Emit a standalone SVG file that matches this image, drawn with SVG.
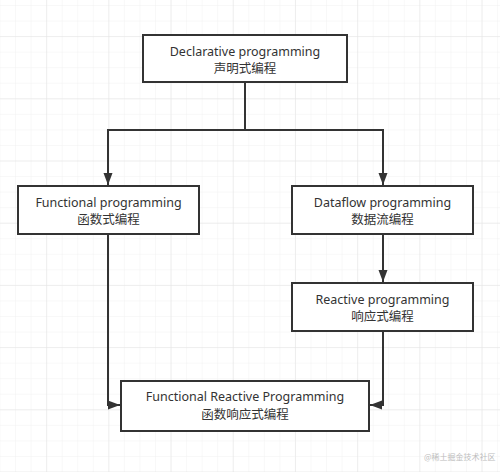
<svg xmlns="http://www.w3.org/2000/svg" width="500" height="472" viewBox="0 0 500 472">
  <defs>
    <pattern id="minor" patternUnits="userSpaceOnUse" x="-0.5" y="5" width="15.55" height="15.55">
      <path d="M0,0 H15.55 M0,0 V15.55" fill="none" stroke="#f1f1f1" stroke-width="1"/>
    </pattern>
    <pattern id="major" patternUnits="userSpaceOnUse" x="46.15" y="36.1" width="62.2" height="62.2">
      <path d="M0,0 H62.2 M0,0 V62.2" fill="none" stroke="#e4e4e4" stroke-width="1"/>
    </pattern>
    <marker id="arrow" markerUnits="userSpaceOnUse" markerWidth="13" markerHeight="10" refX="12" refY="4.5" orient="auto">
      <path d="M0,0 L12,4.5 L0,9 z" fill="#333333"/>
    </marker>
    <style>
      .box { fill: #ffffff; stroke: #333333; stroke-width: 2; }
      .label { font-family: "Noto Sans", "Noto Sans CJK SC", sans-serif; font-size: 12.5px; fill: #333333; text-anchor: middle; }
      .conn { fill: none; stroke: #333333; stroke-width: 2; }
      .wm { font-family: "Noto Sans CJK SC", sans-serif; font-size: 8px; fill: #bdbdbd; }
    </style>
  </defs>
  <rect width="500" height="472" fill="#ffffff"/>
  <rect width="500" height="472" fill="url(#minor)"/>
  <rect width="500" height="472" fill="url(#major)"/>

  <g id="connectors">
    <path class="conn" d="M245,82 V130 H108 V185" marker-end="url(#arrow)"/>
    <path class="conn" d="M245,130 H383 V185" marker-end="url(#arrow)"/>
    <path class="conn" d="M383,234 V282" marker-end="url(#arrow)"/>
    <path class="conn" d="M108,234 V405 H120" marker-end="url(#arrow)"/>
    <path class="conn" d="M383,331 V405 H370" marker-end="url(#arrow)"/>
  </g>

  <g id="declarative">
    <rect class="box" x="143" y="35" width="204" height="47"/>
    <text class="label" x="245" y="55.5">Declarative programming</text>
    <text class="label" x="245" y="73">声明式编程</text>
  </g>
  <g id="functional">
    <rect class="box" x="18" y="186" width="181" height="48"/>
    <text class="label" x="108.5" y="206.5">Functional programming</text>
    <text class="label" x="108.5" y="224">函数式编程</text>
  </g>
  <g id="dataflow">
    <rect class="box" x="292" y="186" width="181" height="48"/>
    <text class="label" x="382.5" y="206.5">Dataflow programming</text>
    <text class="label" x="382.5" y="224">数据流编程</text>
  </g>
  <g id="reactive">
    <rect class="box" x="292" y="283" width="181" height="48"/>
    <text class="label" x="382.5" y="303.5">Reactive programming</text>
    <text class="label" x="382.5" y="321">响应式编程</text>
  </g>
  <g id="frp">
    <rect class="box" x="121" y="381" width="248" height="50"/>
    <text class="label" x="245" y="401">Functional Reactive Programming</text>
    <text class="label" x="245" y="418.5">函数响应式编程</text>
  </g>

  <text class="wm" x="424" y="460">@稀土掘金技术社区</text>
</svg>
